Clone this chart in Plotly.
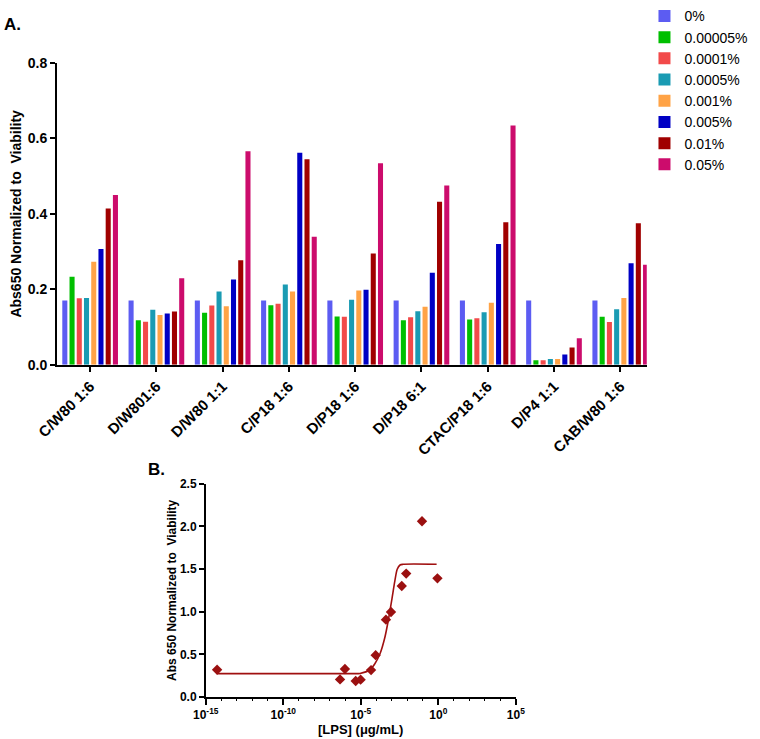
import plotly.graph_objects as go

# Panel A: grouped bars
formulations = ["C/W80 1:6", "D/W801:6", "D/W80 1:1", "C/P18 1:6", "D/P18 1:6",
                "D/P18 6:1", "CTAC/P18 1:6", "D/P4 1:1", "CAB/W80 1:6"]
concentrations = ["0%", "0.00005%", "0.0001%", "0.0005%", "0.001%", "0.005%", "0.01%", "0.05%"]
bar_colors = ["#5c5cf2", "#00bf00", "#f24a4a", "#1a9bb3", "#ffa346", "#0000c4", "#a00000", "#cc0c6c"]

abs_0 = [0.170, 0.170, 0.170, 0.170, 0.170, 0.170, 0.170, 0.170, 0.170]
abs_00005 = [0.233, 0.118, 0.138, 0.158, 0.128, 0.118, 0.120, 0.012, 0.127]
abs_0001 = [0.176, 0.114, 0.157, 0.162, 0.127, 0.126, 0.123, 0.012, 0.113]
abs_0005 = [0.177, 0.146, 0.194, 0.213, 0.172, 0.142, 0.139, 0.015, 0.147]
abs_001 = [0.273, 0.132, 0.155, 0.194, 0.197, 0.154, 0.164, 0.015, 0.177]
abs_005 = [0.307, 0.136, 0.226, 0.562, 0.199, 0.244, 0.320, 0.027, 0.269]
abs_01 = [0.414, 0.141, 0.277, 0.545, 0.295, 0.432, 0.378, 0.046, 0.375]
abs_05 = [0.450, 0.229, 0.566, 0.339, 0.534, 0.475, 0.634, 0.070, 0.265]
series = [abs_0, abs_00005, abs_0001, abs_0005, abs_001, abs_005, abs_01, abs_05]

# Panel B: LPS dose response
lps_conc = [5.4e-15, 4.6e-7, 9.5e-7, 4.7e-6, 9.8e-6, 4.6e-5, 9.1e-5,
            4.2e-4, 8.9e-4, 4.4e-3, 8.5e-3, 0.089, 0.88]
lps_abs = [0.319, 0.206, 0.327, 0.187, 0.203, 0.315, 0.490,
           0.906, 0.995, 1.300, 1.446, 2.060, 1.390]
fit_conc = [5.4e-15, 3.0e-6, 8.9e-6, 3.9e-5, 8.1e-5, 1.74e-4, 3.6e-4, 5.9e-4,
            9.8e-4, 1.58e-3, 2.24e-3, 3.4e-3, 5.5e-3, 0.78]
fit_abs = [0.273, 0.273, 0.276, 0.319, 0.389, 0.506, 0.700, 0.894,
           1.128, 1.360, 1.497, 1.547, 1.555, 1.555]

log_ticks = [1e-15, 1e-10, 1e-5, 1, 1e5]
log_ticktext = ["10<sup>-15</sup>", "10<sup>-10</sup>", "10<sup>-5</sup>",
                "10<sup>0</sup>", "10<sup>5</sup>"]

fig = go.Figure()

for name, vals, col in zip(concentrations, series, bar_colors):
    fig.add_trace(go.Bar(
        x=formulations, y=vals, name=name,
        marker=dict(color=col, line=dict(width=0)),
        xaxis="x", yaxis="y"
    ))

fig.add_trace(go.Scatter(
    x=fit_conc, y=fit_abs, mode="lines", showlegend=False,
    line=dict(color="#a01010", width=1.6, shape="spline", smoothing=0.8),
    xaxis="x2", yaxis="y2"
))
fig.add_trace(go.Scatter(
    x=lps_conc, y=lps_abs, mode="markers", showlegend=False,
    marker=dict(symbol="diamond", size=8, color="#9b1010"),
    xaxis="x2", yaxis="y2"
))

bottom_dom = [0.2707, 0.6787]

fig.update_layout(
    width=760, height=739,
    margin=dict(l=0, r=0, t=0, b=0),
    paper_bgcolor="white", plot_bgcolor="white",
    barmode="group", bargap=0.127, bargroupgap=0.3,
    font=dict(family="Arial", color="black"),
    showlegend=True,
    legend=dict(x=0.848, y=1.005, xanchor="left", yanchor="top",
                font=dict(family="Arial", size=14, color="black"),
                tracegroupgap=0, itemwidth=30),
    xaxis=dict(
        domain=[0.075, 0.851], anchor="y", range=[-0.5, 8.4], automargin=False,
        showline=True, linecolor="black", linewidth=2,
        ticks="outside", ticklen=5, tickwidth=2, tickcolor="black",
        tickangle=-45, showgrid=False, zeroline=False,
        tickfont=dict(family="Arial", size=15, color="black", weight="bold")
    ),
    yaxis=dict(
        domain=[0.5092, 0.9198], anchor="x", range=[0, 0.8], automargin=False,
        tickvals=[0, 0.2, 0.4, 0.6, 0.8], ticktext=["0.0", "0.2", "0.4", "0.6", "0.8"],
        showline=True, linecolor="black", linewidth=2,
        ticks="outside", ticklen=5, tickwidth=2, tickcolor="black",
        showgrid=False, zeroline=False,
        tickfont=dict(family="Arial", size=14, color="black", weight="bold"),
        title=dict(text="Abs650 Normalized to  Viability", standoff=3,
                   font=dict(family="Arial", size=14, color="black", weight="bold"))
    ),
    xaxis2=dict(
        domain=bottom_dom, anchor="y2", type="log", range=[-15, 5], automargin=False,
        tickvals=log_ticks, ticktext=log_ticktext,
        showline=True, linecolor="black", linewidth=1.5,
        ticks="outside", ticklen=6, tickwidth=1.5, tickcolor="black",
        showgrid=False, zeroline=False,
        tickfont=dict(family="Arial", size=12, color="black", weight="bold")
    ),
    # decade minor ticks
    xaxis3=dict(
        domain=bottom_dom, anchor="y2", overlaying="x2", type="log", range=[-15, 5],
        automargin=False, tickmode="linear", tick0=0, dtick=1,
        ticks="outside", ticklen=3, tickwidth=1, tickcolor="black",
        showticklabels=False, showline=False, showgrid=False, zeroline=False
    ),
    yaxis2=dict(
        domain=[0.0572, 0.3474], anchor="x2", range=[0, 2.5], automargin=False,
        tickvals=[0, 0.5, 1.0, 1.5, 2.0, 2.5],
        ticktext=["0.0", "0.5", "1.0", "1.5", "2.0", "2.5"],
        showline=True, linecolor="black", linewidth=1.5,
        ticks="outside", ticklen=5, tickwidth=1.5, tickcolor="black",
        showgrid=False, zeroline=False,
        tickfont=dict(family="Arial", size=12, color="black", weight="bold"),
        title=dict(text="Abs 650 Normalized to  Viability", standoff=1,
                   font=dict(family="Arial", size=12, color="black", weight="bold"))
    ),
    annotations=[
        dict(text="<b>A.</b>", x=12 / 760, y=1 - 21 / 739, xref="paper", yref="paper",
             xanchor="center", yanchor="middle", showarrow=False,
             font=dict(family="Arial", size=17, color="black")),
        dict(text="<b>B.</b>", x=156 / 760, y=1 - 468 / 739, xref="paper", yref="paper",
             xanchor="center", yanchor="middle", showarrow=False,
             font=dict(family="Arial", size=17, color="black")),
        # x title of panel B, sits closer to the tick labels than plotly's own title
        dict(text="<b>[LPS] (\u03bcg/mL)</b>", x=sum(bottom_dom) / 2, y=1 - 729 / 739,
             xref="paper", yref="paper", xanchor="center", yanchor="middle",
             showarrow=False, font=dict(family="Arial", size=13, color="black")),
    ]
)

# invisible trace so the minor-tick axis is drawn
fig.add_trace(go.Scatter(x=[1e-15, 1e5], y=[None, None], mode="markers",
                         showlegend=False, hoverinfo="skip", xaxis="x3", yaxis="y2"))

# the page's default body margin would shift the figure by 8px
fig.write_html("out.html", config={"displayModeBar": False},
               post_script="document.body.style.margin='0';")
